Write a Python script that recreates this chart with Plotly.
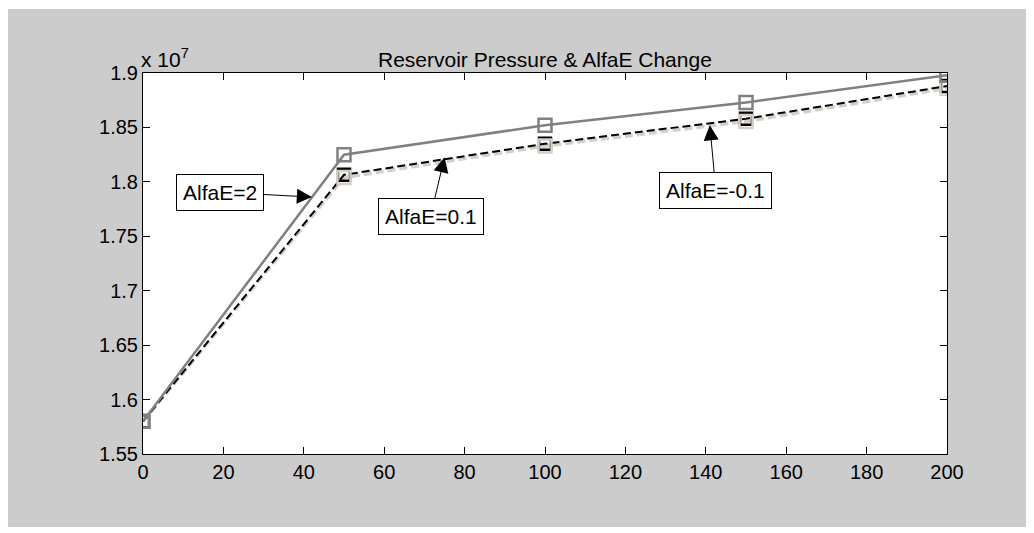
import plotly.graph_objects as go

# Data (pressure in units of 1e7)
time = [0, 50, 100, 150, 200]
p_alfa_2 = [1.58, 1.825, 1.852, 1.873, 1.898]
p_alfa_01 = [1.58, 1.8065, 1.835, 1.858, 1.888]
p_alfa_m01 = [1.58, 1.804, 1.833, 1.8555, 1.886]

x_ticks = [0, 20, 40, 60, 80, 100, 120, 140, 160, 180, 200]
y_ticks = [1.55, 1.6, 1.65, 1.7, 1.75, 1.8, 1.85, 1.9]
y_tick_text = ["1.55", "1.6", "1.65", "1.7", "1.75", "1.8", "1.85", "1.9"]

title_text = "Reservoir Pressure & AlfaE Change"
labels = ["AlfaE=2", "AlfaE=0.1", "AlfaE=-0.1"]

GRAY = "#808080"
BEIGE = "#d4d0c8"
FONT = "Liberation Sans, Arial, sans-serif"

fig = go.Figure()

# beige dashed line
fig.add_trace(go.Scatter(x=time, y=p_alfa_m01, mode="lines",
                         line=dict(color=BEIGE, width=3.5, dash="8px,4px"),
                         showlegend=False, hoverinfo="skip"))
# black dashed line with squares
fig.add_trace(go.Scatter(x=time, y=p_alfa_01, mode="lines+markers",
                         line=dict(color="black", width=2, dash="8px,4px"),
                         marker=dict(symbol="square-open", size=12, color="black",
                                     line=dict(width=2.5)),
                         showlegend=False))
# beige markers
fig.add_trace(go.Scatter(x=time, y=p_alfa_m01, mode="markers",
                         marker=dict(symbol="square-open", size=13, color=BEIGE,
                                     line=dict(width=2.5)),
                         showlegend=False))
# gray solid line
fig.add_trace(go.Scatter(x=time, y=p_alfa_2, mode="lines+markers",
                         line=dict(color=GRAY, width=2.5),
                         marker=dict(symbol="square-open", size=13, color=GRAY,
                                     line=dict(width=2.5)),
                         showlegend=False))

# background shapes
fig.add_shape(type="rect", xref="paper", yref="paper",
              x0=-0.17, x1=1.11, y0=-0.1916, y1=1.168,
              fillcolor="#cccccc", line=dict(width=0), layer="below")
fig.add_shape(type="rect", xref="paper", yref="paper",
              x0=0, x1=1, y0=0, y1=1,
              fillcolor="white", line=dict(width=0), layer="below")

# Title and exponent
fig.add_annotation(text=title_text, xref="paper", yref="paper", x=0.5, y=1,
                   xanchor="center", yanchor="bottom", yshift=0, showarrow=False,
                   font=dict(family=FONT, size=21, color="black"))
fig.add_annotation(text="x 10<sup>7</sup>", xref="paper", yref="paper", x=0, y=1,
                   xanchor="left", yanchor="bottom", xshift=-4, yshift=0, showarrow=False,
                   font=dict(family=FONT, size=21, color="black"))

# Labelled arrows
arrow_specs = [
    (labels[0], 42, 1.786, -92, -5),
    (labels[1], 75, 1.8225, -14, 59),
    (labels[2], 141, 1.852, 6, 65),
]
for text, xa, ya, ax, ay in arrow_specs:
    fig.add_annotation(text=text, x=xa, y=ya, ax=ax, ay=ay, axref="pixel", ayref="pixel",
                       showarrow=True, arrowhead=2, arrowsize=3, arrowwidth=1,
                       arrowcolor="black", bgcolor="white", bordercolor="black",
                       borderwidth=1, borderpad=6,
                       font=dict(family=FONT, size=21, color="black"))

axis_common = dict(showgrid=False, zeroline=False, showline=True, linecolor="black",
                   linewidth=1, mirror="ticks", ticks="inside", ticklen=7,
                   tickcolor="black", tickfont=dict(family=FONT, size=20, color="black"))

fig.update_xaxes(range=[0, 200], tickvals=x_ticks, ticktext=[str(v) for v in x_ticks],
                 **axis_common)
fig.update_yaxes(range=[1.55, 1.9], tickvals=y_ticks, ticktext=y_tick_text,
                 **axis_common)

fig.update_layout(width=1026, height=525,
                  margin=dict(l=135, r=87, t=65, b=79),
                  paper_bgcolor="white", plot_bgcolor="white",
                  font=dict(family=FONT, size=20, color="black"),
                  showlegend=False)

fig.write_html("out.html")
